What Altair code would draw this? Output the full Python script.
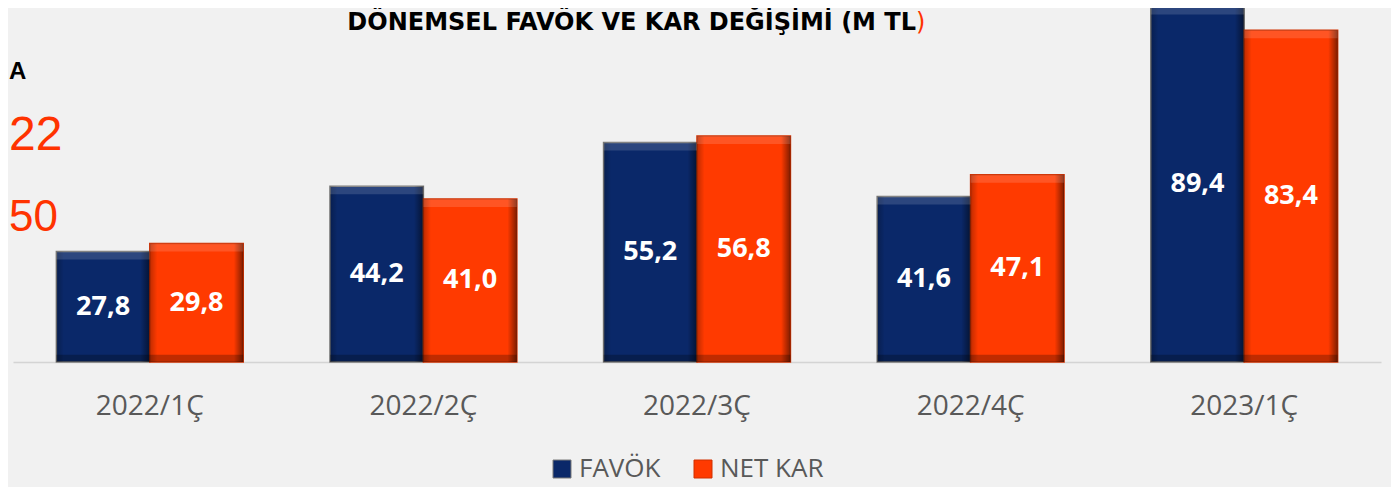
import altair as alt
import pandas as pd

categories = ["2022/1Ç", "2022/2Ç", "2022/3Ç", "2022/4Ç", "2023/1Ç"]
favok = [27.8, 44.2, 55.2, 41.6, 89.4]
net_kar = [29.8, 41.0, 56.8, 47.1, 83.4]
series = ["FAVÖK", "NET KAR"]
title_main = "DÖNEMSEL FAVÖK VE KAR DEĞİŞİMİ (M TL"
title_end = ")"
side_black = ["A"]
side_red = ["22", "50"]

rows = []
for c, a, b in zip(categories, favok, net_kar):
    rows.append({"cat": c, "series": series[0], "value": a})
    rows.append({"cat": c, "series": series[1], "value": b})
df = pd.DataFrame(rows)

BLUE = "#0a2869"
RED = "#ff3a00"
GRAY = "#595959"

x = alt.X(
    "cat:N", sort=categories,
    scale=alt.Scale(paddingInner=0.317, paddingOuter=0.1585),
    axis=alt.Axis(title=None, ticks=False, labelAngle=0, labelFont="Open Sans",
                  labelFontSize=28, labelColor=GRAY, labelBaseline="alphabetic",
                  labelPadding=52, domainColor="#d4d4d4", domainWidth=1.5, grid=False),
)
xo = alt.XOffset("series:N", sort=series, scale=alt.Scale(paddingInner=0, paddingOuter=0))
yscale = alt.Scale(domain=[0, 86.5], nice=False, zero=True)

base = alt.Chart(df).transform_calculate(
    mid="datum.value / 2",
    top2="datum.value - 2",
    b0="0",
    b1="1.8",
    label="replace(format(datum.value, '.1f'), '.', ',')",
)

bars = base.mark_bar(strokeWidth=1.5).encode(
    x=x, xOffset=xo,
    y=alt.Y("value:Q", scale=yscale, axis=None),
    color=alt.Color(
        "series:N",
        scale=alt.Scale(domain=series, range=[BLUE, RED]),
        legend=alt.Legend(title=None, orient="none", legendX=536, legendY=438,
                          direction="horizontal", symbolType="square", symbolSize=324,
                          symbolStrokeColor="#333333", symbolStrokeWidth=1,
                          labelFont="Open Sans", labelFontSize=26, labelColor=GRAY,
                          labelOffset=4, columnPadding=29, symbolOpacity=1),
    ),
    stroke=alt.Stroke("series:N", scale=alt.Scale(domain=series, range=["#7a7a7a", "#d03000"]),
                      legend=None),
)

edge = base.mark_bar(
    color=alt.Gradient(
        gradient="linear",
        stops=[
            alt.GradientStop(color="rgba(0,0,0,0.25)", offset=0),
            alt.GradientStop(color="rgba(0,0,0,0)", offset=0.08),
            alt.GradientStop(color="rgba(0,0,0,0)", offset=0.9),
            alt.GradientStop(color="rgba(0,0,0,0.5)", offset=1),
        ],
        x1=0, x2=1, y1=0, y2=0,
    )
).encode(x=x, xOffset=xo, y=alt.Y("value:Q", scale=yscale, axis=None))

top_band = base.mark_bar(color="white", opacity=0.14).encode(
    x=x, xOffset=xo, y=alt.Y("value:Q", scale=yscale, axis=None), y2="top2:Q"
)
bottom_band = base.mark_bar(color="black", opacity=0.25).encode(
    x=x, xOffset=xo, y=alt.Y("b1:Q", scale=yscale, axis=None), y2="b0:Q"
)

labels = base.mark_text(color="white", font="Open Sans", fontWeight="bold", fontSize=27,
                        baseline="middle").encode(
    x=x, xOffset=xo, y=alt.Y("mid:Q", scale=yscale, axis=None), text="label:N"
)

title1 = alt.Chart(pd.DataFrame({"t": [title_main]})).mark_text(
    font="DejaVu Sans", fontWeight="bold", fontSize=24, color="black",
    align="right", baseline="alphabetic"
).encode(x=alt.value(903), y=alt.value(12), text="t:N")
title2 = alt.Chart(pd.DataFrame({"t": [title_end]})).mark_text(
    font="DejaVu Sans", fontSize=24, color="#ff3300",
    align="left", baseline="alphabetic"
).encode(x=alt.value(903), y=alt.value(12), text="t:N")

side1 = alt.Chart(pd.DataFrame({"t": side_black})).mark_text(
    font="Liberation Sans", fontWeight="bold", fontSize=24, color="black",
    align="left", baseline="middle"
).encode(x=alt.value(-4), y=alt.value(54), text="t:N")
side2 = alt.Chart(pd.DataFrame({"t": [side_red[0]]})).mark_text(
    font="Liberation Sans", fontSize=48, color="#ff3300",
    align="left", baseline="middle"
).encode(x=alt.value(-4), y=alt.value(118), text="t:N")
side3 = alt.Chart(pd.DataFrame({"t": [side_red[1]]})).mark_text(
    font="Liberation Sans", fontSize=44, color="#ff3300",
    align="left", baseline="middle"
).encode(x=alt.value(-4), y=alt.value(200), text="t:N")

chart = alt.layer(bars, edge, top_band, bottom_band, labels, title1, title2, side1, side2, side3).properties(
    width=1368, height=344,
    autosize=alt.AutoSizeParams(type="none"),
    padding={"left": 5, "top": 10, "right": 10, "bottom": 125},
    background="#f1f1f1",
).configure_view(stroke=None).configure_legend(padding=0)

chart.save("out.html", embed_options={"renderer": "svg", "actions": False})
